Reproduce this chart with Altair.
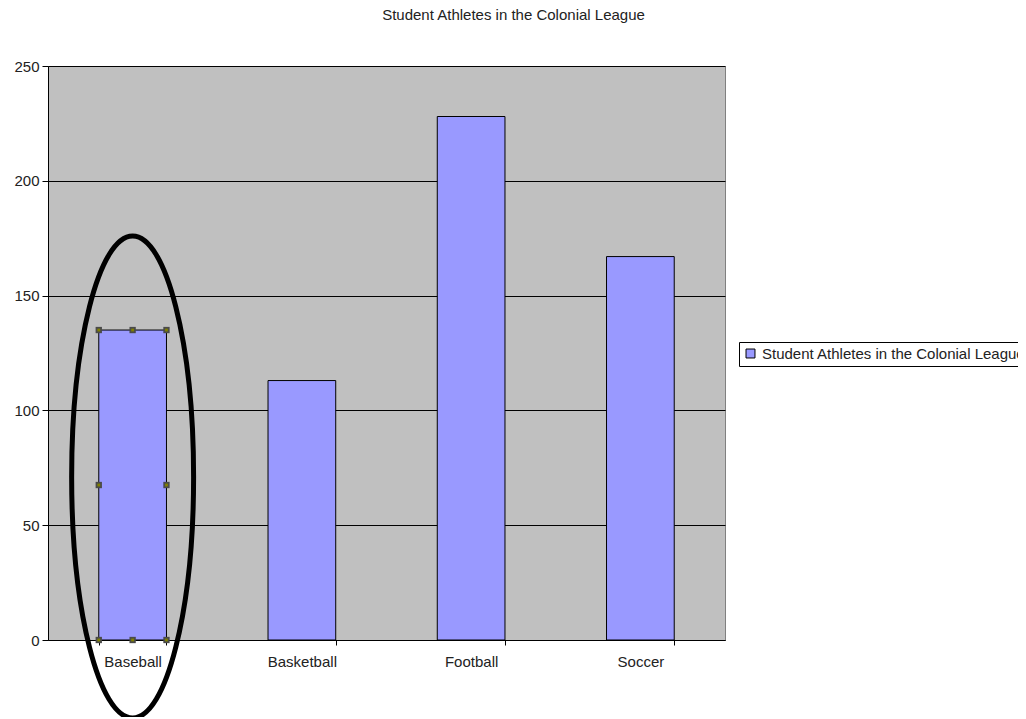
import altair as alt
import pandas as pd

# ---- data ----
sports = ["Baseball", "Basketball", "Football", "Soccer"]
athletes = [135, 113, 228, 167]
series_name = "Student Athletes in the Colonial League"
highlighted_sport = "Baseball"
ellipse_center_value = 71
y_ticks = [0, 50, 100, 150, 200, 250]

FONT = "Liberation Sans"
TEXT = "#222222"

df = pd.DataFrame({"sport": sports, "athletes": athletes, "series": [series_name] * len(sports)})

x_scale = alt.Scale(domain=sports, paddingInner=0.6, paddingOuter=0.3)
y_scale = alt.Scale(domain=[0, 250], nice=False)

x_axis = alt.Axis(title=None, labelAngle=0, tickBand="extent", grid=False,
                  domainColor="black", tickColor="black", tickSize=5,
                  labelPadding=9, labelFont=FONT, labelFontSize=15, labelColor=TEXT)
y_axis = alt.Axis(title=None, values=y_ticks, grid=True, gridColor="black", gridWidth=1,
                  domainColor="black", tickColor="black", tickSize=6, labelPadding=3,
                  labelFont=FONT, labelFontSize=15, labelColor=TEXT)

base = alt.Chart(df)

bars = base.mark_bar(stroke="black", strokeWidth=1).encode(
    x=alt.X("sport:N", scale=x_scale, axis=x_axis, sort=sports),
    y=alt.Y("athletes:Q", scale=y_scale, axis=y_axis),
    color=alt.Color("series:N", scale=alt.Scale(range=["#9999FF"]),
                    legend=alt.Legend(title=None, orient="none", legendX=691, legendY=276,
                                      fillColor="white", strokeColor="black", padding=4,
                                      labelFont=FONT, labelFontSize=15, labelColor=TEXT,
                                      labelLimit=0, symbolType="square", symbolSize=80,
                                      symbolStrokeColor="black", symbolStrokeWidth=1)),
)

sel = base.transform_filter(alt.datum.sport == highlighted_sport)

def handles(band_pos, fracs):
    layers = []
    for f in fracs:
        layers.append(
            sel.transform_calculate(hy=f"datum.athletes * {f}").mark_square(
                size=40, color="#4a4a4a", opacity=1).encode(
                x=alt.X("sport:N", scale=x_scale, bandPosition=band_pos, sort=sports),
                y=alt.Y("hy:Q", scale=y_scale),
            )
        )
        layers.append(
            sel.transform_calculate(hy=f"datum.athletes * {f}").mark_square(
                size=8, color="#808000", opacity=1).encode(
                x=alt.X("sport:N", scale=x_scale, bandPosition=band_pos, sort=sports),
                y=alt.Y("hy:Q", scale=y_scale),
            )
        )
    return layers

handle_layers = handles(0, [1, 0.5, 0]) + handles(0.5, [1, 0]) + handles(1, [1, 0.5, 0])

ellipse = sel.mark_point(
    shape="M -0.253 0 A 0.253 1 0 1 0 0.253 0 A 0.253 1 0 1 0 -0.253 0 Z",
    size=232324, filled=False, stroke="black", strokeWidth=5, opacity=1,
).encode(
    x=alt.X("sport:N", scale=x_scale, sort=sports),
    y=alt.datum(ellipse_center_value, scale=y_scale),
)

chart = alt.layer(bars, *handle_layers, ellipse).properties(
    width=677, height=574,
    title=alt.TitleParams(series_name, anchor="middle", dx=127, offset=36,
                          font=FONT, fontSize=15, fontWeight="normal", color=TEXT),
    autosize=alt.AutoSizeParams(type="none"),
    padding={"left": 40, "top": 58, "right": 293, "bottom": 77},
).configure_view(fill="#C0C0C0", stroke="#808080")

chart.save("out.html", embed_options={"renderer": "svg", "actions": False})
